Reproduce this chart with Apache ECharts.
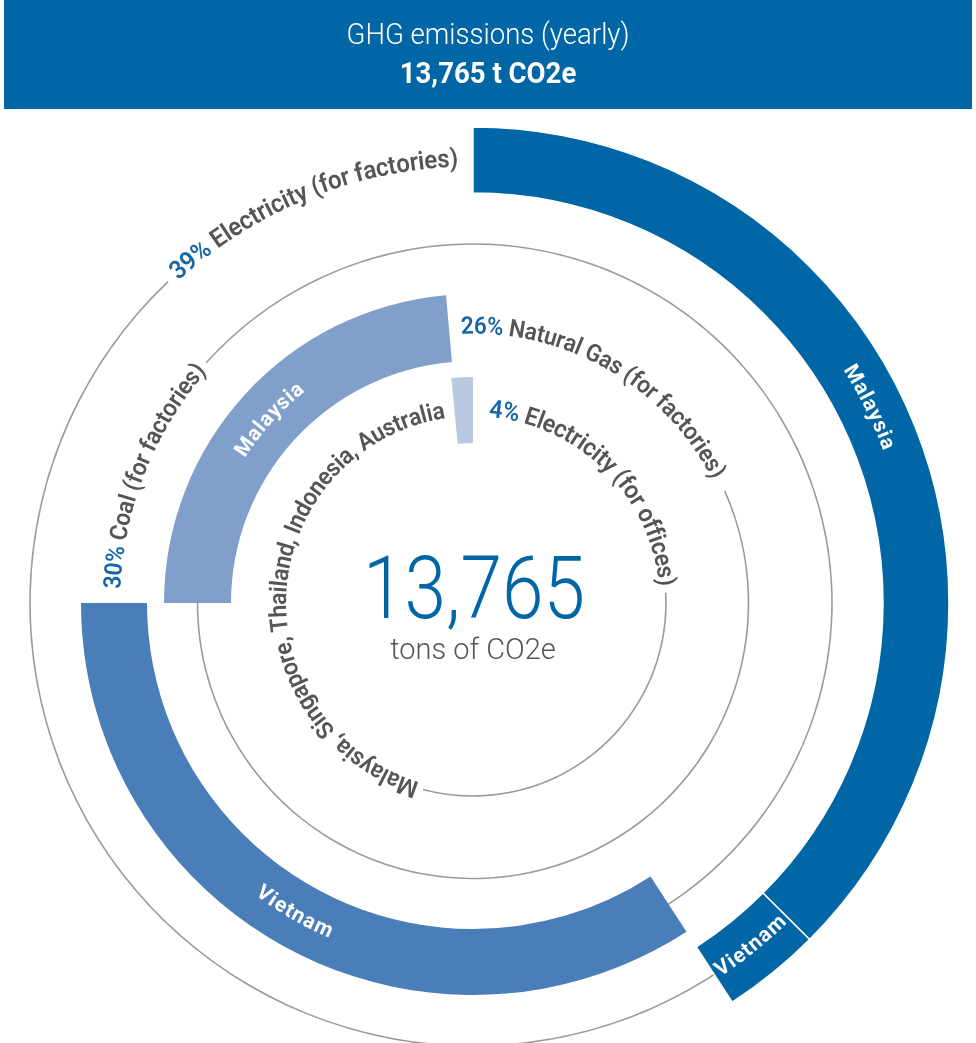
<!DOCTYPE html>
<html>
<head>
<meta charset="utf-8">
<title>GHG emissions (yearly)</title>
<script src="https://cdn.jsdelivr.net/npm/echarts@6/dist/echarts.min.js"></script>
<style>
  html, body { margin: 0; padding: 0; background: #fff; }
  #chart { width: 976px; height: 1043px; }
</style>
</head>
<body>
<div id="chart"></div>
<script>
// ---- data ----
const totalTons = '13,765';
const ringNames = ['Electricity (for factories)', 'Coal (for factories)', 'Natural Gas (for factories)', 'Electricity (for offices)'];
const ringShares = ['39%', '30%', '26%', '4%'];
// where each ring's bar starts, degrees clockwise from 12 o'clock
const ringStart = [0, 147, 270, 354.5];
const ringSegments = [
  ['Malaysia', 'Vietnam'],
  ['Vietnam'],
  ['Malaysia'],
  ['Malaysia, Singapore, Thailand, Indonesia, Australia']
];
// angular length of each segment, degrees
const ringSpans = [[135, 12], [123], [85], [5.5]];

// ---- layout ----
const CX = 473, CY = 603;
const barRadii = [[410, 476], [326, 392], [242, 309], [160, 226]];
const trackR = [443, 359, 275.5, 193];
const ringColors = ['#0066a6', '#4a7eb9', '#819fcb', '#b9c9e2'];
const trackFrom = [140, 312, 66, 87];
const trackTo = [316.5, 510, 272, 195];
// ring title arcs (start/end degrees)
const labelArcs = [[317.6, 358.1], [272.3, 311], [357.5, 422.8], [4.8, 85]];

const GRAY = '#555555';
const BLUE = '#1767a8';
const FONT = 'Roboto';

const chart = echarts.init(document.getElementById('chart'), null, { renderer: 'canvas' });

const measureCtx = document.createElement('canvas').getContext('2d');
function widths(chars, size, weight, sx) {
  measureCtx.font = weight + ' ' + size + 'px ' + FONT;
  return chars.map(c => measureCtx.measureText(c.c).width * sx);
}

// lay text along a circle, one character per element
function arcText(parts, o) {
  const chars = [];
  parts.forEach(p => Array.from(p.text).forEach(c => chars.push({ c, color: p.color })));
  const spacing = o.spacing || 0;
  const sx = o.sx || 1;
  let size = o.size;
  let w = widths(chars, size, o.weight, sx);
  let total = w.reduce((a, b) => a + b, 0) + spacing * (chars.length - 1);
  if (o.to != null) {
    const arc = (o.to - o.from) * Math.PI / 180 * o.r;
    size = size * arc / total;
    w = widths(chars, size, o.weight, sx);
    total = w.reduce((a, b) => a + b, 0) + spacing * (chars.length - 1);
  }
  const sign = o.dir === 'ccw' ? -1 : 1;
  const totalDeg = total / o.r * 180 / Math.PI;
  const start = o.from != null ? o.from : o.mid - sign * totalDeg / 2;
  const out = [];
  let off = 0;
  chars.forEach((ch, i) => {
    const th = start + sign * (off + w[i] / 2) / o.r * 180 / Math.PI;
    off += w[i] + spacing;
    const rad = th * Math.PI / 180;
    const rot = o.dir === 'ccw' ? -(th - 180) * Math.PI / 180 : -rad;
    out.push({
      type: 'text',
      x: CX + o.r * Math.sin(rad),
      y: CY - o.r * Math.cos(rad),
      rotation: rot,
      scaleX: sx,
      silent: true,
      z: 20,
      style: {
        text: ch.c,
        fill: ch.color,
        fontSize: size,
        fontWeight: o.weight,
        fontFamily: FONT,
        align: 'center',
        verticalAlign: 'middle'
      }
    });
  });
  return out;
}

const series = [];
// grey tracks
trackR.forEach((r, i) => {
  const span = trackTo[i] - trackFrom[i];
  series.push({
    type: 'pie',
    silent: true,
    animation: false,
    center: [CX, CY],
    radius: [r - 0.8, r + 0.8],
    startAngle: 90 - trackFrom[i],
    clockwise: true,
    label: { show: false },
    labelLine: { show: false },
    z: 1,
    data: [
      { value: span, itemStyle: { color: '#9b9b9b', borderWidth: 0 } },
      { value: 360 - span, itemStyle: { color: 'rgba(0,0,0,0)', borderWidth: 0 } }
    ]
  });
});
// bars
ringSegments.forEach((segs, i) => {
  const used = ringSpans[i].reduce((a, b) => a + b, 0);
  const data = segs.map((name, j) => ({
    name,
    value: ringSpans[i][j],
    itemStyle: {
      color: ringColors[i],
      borderColor: '#fff',
      borderWidth: segs.length > 1 ? 1.5 : 0
    }
  }));
  data.push({ name: '', value: 360 - used, itemStyle: { color: 'rgba(0,0,0,0)', borderWidth: 0 } });
  series.push({
    type: 'pie',
    silent: true,
    animation: false,
    center: [CX, CY],
    radius: barRadii[i],
    startAngle: 90 - ringStart[i],
    clockwise: true,
    label: { show: false },
    labelLine: { show: false },
    z: 3,
    data
  });
});

let graphics = [
  { type: 'rect', shape: { x: 4, y: 0, width: 968, height: 109 }, style: { fill: '#0066a6' }, silent: true, z: 0 },
  { type: 'text', x: 488, y: 36, scaleX: 0.92, silent: true, z: 5,
    style: { text: 'GHG emissions (yearly)', fill: '#fff', fontSize: 30, fontWeight: 300, fontFamily: FONT, align: 'center', verticalAlign: 'middle' } },
  { type: 'text', x: 488, y: 76, scaleX: 0.95, silent: true, z: 5,
    style: { text: totalTons + ' t CO2e', fill: '#fff', fontSize: 29, fontWeight: 'bold', fontFamily: FONT, align: 'center', verticalAlign: 'middle' } },
  { type: 'text', x: CX + 1, y: 596, scaleX: 0.86, silent: true, z: 5,
    style: { text: totalTons, fill: '#0066a6', fontSize: 87, fontWeight: 300, fontFamily: FONT, align: 'center', verticalAlign: 'middle' } },
  { type: 'text', x: CX, y: 652, silent: true, z: 5,
    style: { text: 'tons of CO2e', fill: '#555', fontSize: 29, fontWeight: 300, fontFamily: FONT, align: 'center', verticalAlign: 'middle' } }
];

// ring titles along the tracks
ringNames.forEach((name, i) => {
  graphics = graphics.concat(arcText(
    [{ text: ringShares[i], color: BLUE }, { text: ' ' + name, color: GRAY }],
    { r: trackR[i], from: labelArcs[i][0], to: labelArcs[i][1], dir: 'cw', size: 23, weight: 600, sx: 0.94 }
  ));
});

// segment labels
graphics = graphics.concat(
  arcText([{ text: ringSegments[0][0], color: '#fff' }], { r: 443, mid: 63.7, dir: 'cw', size: 21, weight: 'bold', spacing: 1 }),
  arcText([{ text: ringSegments[0][1], color: '#fff' }], { r: 443, mid: 141, dir: 'ccw', size: 21, weight: 'bold', spacing: 1 }),
  arcText([{ text: ringSegments[1][0], color: '#fff' }], { r: 359, mid: 210, dir: 'ccw', size: 21, weight: 'bold', spacing: 1 }),
  arcText([{ text: ringSegments[2][0], color: '#fff' }], { r: 275.5, mid: 312, dir: 'cw', size: 21, weight: 'bold', spacing: 1 }),
  arcText([{ text: ringSegments[3][0], color: GRAY }], { r: 193, from: 196.7, to: 351.7, dir: 'cw', size: 22, weight: 600, sx: 0.94 })
);

chart.setOption({
  backgroundColor: '#fff',
  animation: false,
  series,
  graphic: graphics
});
</script>
</body>
</html>
